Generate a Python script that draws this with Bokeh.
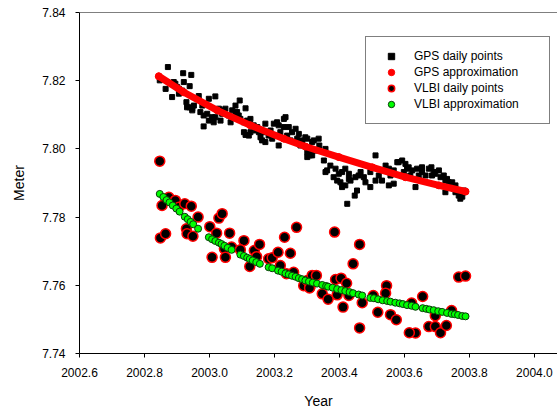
from bokeh.plotting import figure
from bokeh.models import Range1d, FixedTicker, PrintfTickFormatter, Span, Legend, LegendItem
from bokeh.embed import file_html
from bokeh.resources import INLINE

# GPS daily points (year, meter)
gps_year = [2002.872, 2002.919, 2002.944, 2002.847, 2002.865, 2002.885, 2002.895, 2002.921, 2002.939, 2002.916,
            2002.929, 2002.947, 2002.906, 2002.967, 2002.998, 2003.018, 2002.978, 2002.982, 2002.998, 2002.982,
            2003.008, 2003.034, 2003.049, 2003.059, 2003.065, 2003.080, 2003.093, 2003.111, 2003.090, 2003.106,
            2003.126, 2003.111, 2003.126, 2003.147, 2003.157, 2003.172, 2003.172, 2003.188, 2003.198, 2003.208,
            2003.213, 2003.234, 2003.229, 2003.244, 2003.254, 2003.265, 2003.270, 2003.280, 2003.295, 2003.301,
            2003.309,
            2002.952, 2002.972, 2002.993, 2003.018, 2003.029, 2003.039, 2003.070, 2003.075, 2003.085, 2003.095,
            2003.116, 2003.136, 2003.152, 2003.167, 2003.182, 2003.193, 2003.203, 2003.218, 2003.239, 2003.249,
            2003.275, 2003.285,
            2003.301, 2003.316, 2003.336, 2003.338, 2003.311, 2003.301, 2003.357, 2003.352, 2003.362, 2003.372,
            2003.388, 2003.398, 2003.382, 2003.408, 2003.418, 2003.429, 2003.403, 2003.418, 2003.434, 2003.449,
            2003.454, 2003.447, 2003.424, 2003.465, 2003.475, 2003.480, 2003.495, 2003.511, 2003.495, 2003.511,
            2003.521, 2003.531, 2003.542, 2003.552, 2003.557, 2003.567, 2003.567, 2003.582, 2003.593, 2003.603,
            2003.598, 2003.613, 2003.624, 2003.634, 2003.639, 2003.644, 2003.654, 2003.665, 2003.675, 2003.683,
            2003.685, 2003.695, 2003.706, 2003.711, 2003.721, 2003.726, 2003.736, 2003.747, 2003.757, 2003.762,
            2003.767, 2003.778, 2003.783, 2003.752, 2003.726,
            2002.890, 2002.906, 2002.938,
            2002.901, 2002.931, 2002.947, 2003.013, 2003.044, 2003.080, 2003.106, 2003.121, 2003.142, 2003.162,
            2003.213, 2003.229, 2003.285, 2003.316, 2003.321, 2003.326, 2003.357, 2003.408, 2003.393, 2003.429,
            2003.459, 2003.552, 2003.578, 2003.608, 2003.618, 2003.654, 2003.690, 2003.731, 2003.757, 2003.772,
            2003.783]
gps_value = [7.8240, 7.8222, 7.8217, 7.8201, 7.8176, 7.8152, 7.8191, 7.8196, 7.8184, 7.8171,
             7.8137, 7.8118, 7.8162, 7.8155, 7.8147, 7.8154, 7.8127, 7.8098, 7.8083, 7.8066,
             7.8093, 7.8083, 7.8118, 7.8098, 7.8078, 7.8127, 7.8142, 7.8119, 7.8098, 7.8078,
             7.8088, 7.8041, 7.8049, 7.8064, 7.8034, 7.8074, 7.8020, 7.8054, 7.8074, 7.8078,
             7.8010, 7.8093, 7.8064, 7.8064, 7.8049, 7.8059, 7.8030, 7.8010, 7.8034, 7.7990,
             7.7981,
             7.8127, 7.8108, 7.8103, 7.8093, 7.8118, 7.8103, 7.8113, 7.8093, 7.8108, 7.8088,
             7.8083, 7.8069, 7.8049, 7.8049, 7.8039, 7.8030, 7.8039, 7.8049, 7.8039, 7.8025,
             7.8044, 7.8025,
             7.8030, 7.8020, 7.8030, 7.8010, 7.7995, 7.7976, 7.8000, 7.7966, 7.7937, 7.7951,
             7.7942, 7.7927, 7.7917, 7.7932, 7.7942, 7.7927, 7.7902, 7.7893, 7.7907, 7.7917,
             7.7878, 7.7863, 7.7839, 7.7932, 7.7917, 7.7902, 7.7888, 7.7981, 7.7932, 7.7907,
             7.7922, 7.7907, 7.7951, 7.7942, 7.7922, 7.7937, 7.7898, 7.7961, 7.7966, 7.7956,
             7.7932, 7.7946, 7.7937, 7.7888, 7.7942, 7.7922, 7.7932, 7.7922, 7.7942, 7.7946,
             7.7922, 7.7927, 7.7937, 7.7917, 7.7922, 7.7907, 7.7902, 7.7902, 7.7893, 7.7878,
             7.7863, 7.7860, 7.7873, 7.7883, 7.7873,
             7.8196, 7.8176, 7.8122,
             7.8181, 7.8122, 7.8113, 7.8078, 7.8113, 7.8103, 7.8049, 7.8039, 7.8054, 7.8025,
             7.8069, 7.8088, 7.8015, 7.7981, 7.8025, 7.7995, 7.7932, 7.7888, 7.7907, 7.7912,
             7.7922, 7.7893, 7.7961, 7.7942, 7.7922, 7.7946, 7.7932, 7.7912, 7.7873, 7.7854,
             7.7878]

# GPS approximation
gps_fit_year = [2002.844, 2002.921, 2003.024, 2003.126, 2003.229, 2003.295, 2003.398, 2003.501, 2003.603, 2003.706, 2003.788]
gps_fit_value = [7.8213, 7.8166, 7.8113, 7.8069, 7.8030, 7.8007, 7.7976, 7.7946, 7.7917, 7.7893, 7.7875]

# VLBI daily points
vlbi_year = [2002.847, 2002.854, 2002.875, 2002.895, 2002.906, 2002.924, 2002.944, 2002.849, 2002.865, 2002.965,
             2002.929, 2002.931, 2002.949, 2003.029, 2003.039, 2003.001, 2003.022, 2003.062, 2003.046, 2003.008,
             2003.049, 2003.068, 2003.106, 2003.095, 2003.138, 2003.154, 2003.145, 2003.124, 2003.182, 2003.193,
             2003.211, 2003.249, 2003.268, 2003.231, 2003.218, 2003.237, 2003.259, 2003.290, 2003.309, 2003.301,
             2003.385, 2003.462, 2003.442, 2003.316, 2003.329, 2003.308, 2003.347, 2003.365, 2003.388, 2003.405,
             2003.422, 2003.393, 2003.429, 2003.411, 2003.470, 2003.462, 2003.504, 2003.545, 2003.542, 2003.518,
             2003.557, 2003.575, 2003.622, 2003.656, 2003.634, 2003.615, 2003.675, 2003.695, 2003.711, 2003.729,
             2003.695, 2003.745, 2003.767, 2003.788]
vlbi_value = [7.7964, 7.7834, 7.7858, 7.7849, 7.7829, 7.7839, 7.7832, 7.7739, 7.7751, 7.7800,
              7.7766, 7.7751, 7.7744, 7.7797, 7.7810, 7.7772, 7.7753, 7.7753, 7.7707, 7.7682,
              7.7682, 7.7712, 7.7731, 7.7704, 7.7702, 7.7720, 7.7684, 7.7655, 7.7678, 7.7681,
              7.7697, 7.7694, 7.7770, 7.7741, 7.7658, 7.7634, 7.7638, 7.7599, 7.7594, 7.7614,
              7.7756, 7.7720, 7.7663, 7.7629, 7.7629, 7.7592, 7.7575, 7.7559, 7.7617, 7.7621,
              7.7606, 7.7572, 7.7570, 7.7536, 7.7549, 7.7475, 7.7570, 7.7599, 7.7577, 7.7521,
              7.7514, 7.7499, 7.7548, 7.7567, 7.7460, 7.7461, 7.7479, 7.7479, 7.7461, 7.7482,
              7.7511, 7.7526, 7.7624, 7.7627]

# VLBI approximation
vlbi_fit_year = [2002.847, 2002.858, 2002.868, 2002.877, 2002.887, 2002.898, 2002.908, 2002.924, 2002.933, 2002.942,
                 2002.950, 2002.965,
                 2002.998, 2003.008, 2003.018, 2003.029, 2003.037, 2003.046, 2003.056, 2003.068,
                 2003.095, 2003.106, 2003.116, 2003.124, 2003.133, 2003.144, 2003.155,
                 2003.182, 2003.193, 2003.211, 2003.222, 2003.234, 2003.244, 2003.254, 2003.265, 2003.275,
                 2003.285, 2003.295, 2003.306,
                 2003.318, 2003.331, 2003.347, 2003.359, 2003.365, 2003.379, 2003.393, 2003.406, 2003.418,
                 2003.431, 2003.442, 2003.459, 2003.470,
                 2003.495, 2003.506, 2003.519, 2003.533, 2003.547, 2003.557, 2003.572, 2003.585, 2003.595,
                 2003.608, 2003.622, 2003.634, 2003.656, 2003.667, 2003.677, 2003.690, 2003.704, 2003.716,
                 2003.731, 2003.745, 2003.755, 2003.765, 2003.778, 2003.788]
vlbi_fit_value = [7.7868, 7.7859, 7.7850, 7.7843, 7.7834, 7.7825, 7.7816, 7.7801, 7.7794, 7.7786,
                  7.7779, 7.7766,
                  7.7741, 7.7735, 7.7730, 7.7725, 7.7721, 7.7716, 7.7710, 7.7704,
                  7.7690, 7.7686, 7.7681, 7.7677, 7.7673, 7.7668, 7.7663,
                  7.7653, 7.7650, 7.7643, 7.7640, 7.7635, 7.7632, 7.7628, 7.7625, 7.7621,
                  7.7618, 7.7614, 7.7611,
                  7.7608, 7.7605, 7.7601, 7.7598, 7.7596, 7.7593, 7.7589, 7.7586, 7.7583,
                  7.7580, 7.7577, 7.7573, 7.7570,
                  7.7563, 7.7562, 7.7559, 7.7556, 7.7554, 7.7552, 7.7549, 7.7547, 7.7545,
                  7.7542, 7.7540, 7.7537, 7.7533, 7.7531, 7.7529, 7.7527, 7.7524, 7.7522,
                  7.7519, 7.7516, 7.7515, 7.7513, 7.7510, 7.7509]

x_ticks = [2002.6, 2002.8, 2003.0, 2003.2, 2003.4, 2003.6, 2003.8, 2004.0]
y_ticks = [7.74, 7.76, 7.78, 7.80, 7.82, 7.84]

FONT = "Liberation Sans"

p = figure(width=557, height=411, output_backend="svg", toolbar_location=None,
           x_range=Range1d(2002.6, 2004.071), y_range=Range1d(7.74, 7.84),
           min_border_left=79, min_border_right=0, min_border_top=12, min_border_bottom=58,
           background_fill_color="white", border_fill_color="white")
p.outline_line_color = None
p.xgrid.visible = False
p.ygrid.visible = False

p.xaxis.ticker = FixedTicker(ticks=x_ticks)
p.yaxis.ticker = FixedTicker(ticks=y_ticks)
p.xaxis.formatter = PrintfTickFormatter(format="%.1f")
p.yaxis.formatter = PrintfTickFormatter(format="%.2f")
p.xaxis.axis_label = "Year"
p.yaxis.axis_label = "Meter"
for ax in (p.xaxis[0], p.yaxis[0]):
    ax.major_tick_in = 0
    ax.major_tick_out = 4
    ax.minor_tick_line_color = None
    ax.axis_line_color = "black"
    ax.major_tick_line_color = "black"
    ax.major_label_text_font = FONT
    ax.major_label_text_font_size = "12px"
    ax.major_label_text_color = "black"
    ax.axis_label_text_font = FONT
    ax.axis_label_text_font_size = "14px"
    ax.axis_label_text_font_style = "normal"
    ax.axis_label_text_color = "black"
p.yaxis.major_label_standoff = 10
p.yaxis.axis_label_standoff = 12
p.xaxis.major_label_standoff = 10
p.xaxis.axis_label_standoff = 13

p.add_layout(Span(location=7.84, dimension="width", line_color="black", line_width=1))

r_gps = p.scatter(gps_year, gps_value, marker="square", size=5, fill_color="black", line_color="black")
p.line(gps_fit_year, gps_fit_value, line_width=7, line_color="#ff0000", line_cap="round", line_join="round")
r_gps_fit = p.scatter(gps_fit_year, gps_fit_value, size=7, fill_color="#ff0000", line_color="#ff0000")
r_vlbi = p.scatter(vlbi_year, vlbi_value, size=10, fill_color="black", line_color="#ff0000", line_width=1.5)
r_vlbi_fit = p.scatter(vlbi_fit_year, vlbi_fit_value, size=7, fill_color="#00ff00", line_color="#0a3a0a", line_width=1)

legend = Legend(items=[
    LegendItem(label="GPS daily points", renderers=[r_gps]),
    LegendItem(label="GPS approximation", renderers=[r_gps_fit]),
    LegendItem(label="VLBI daily points", renderers=[r_vlbi]),
    LegendItem(label="VLBI approximation", renderers=[r_vlbi_fit]),
], location=(286, 229))
legend.border_line_color = "black"
legend.border_line_width = 1
legend.background_fill_color = "white"
legend.background_fill_alpha = 1
legend.padding = 11
legend.spacing = 0
legend.margin = 0
legend.glyph_width = 28
legend.glyph_height = 16
legend.label_height = 16
legend.label_width = 124
legend.label_standoff = 9
legend.label_text_font = FONT
legend.label_text_font_size = "12px"
legend.label_text_color = "black"
p.add_layout(legend)

open("out.html", "w").write(file_html(p, INLINE))
